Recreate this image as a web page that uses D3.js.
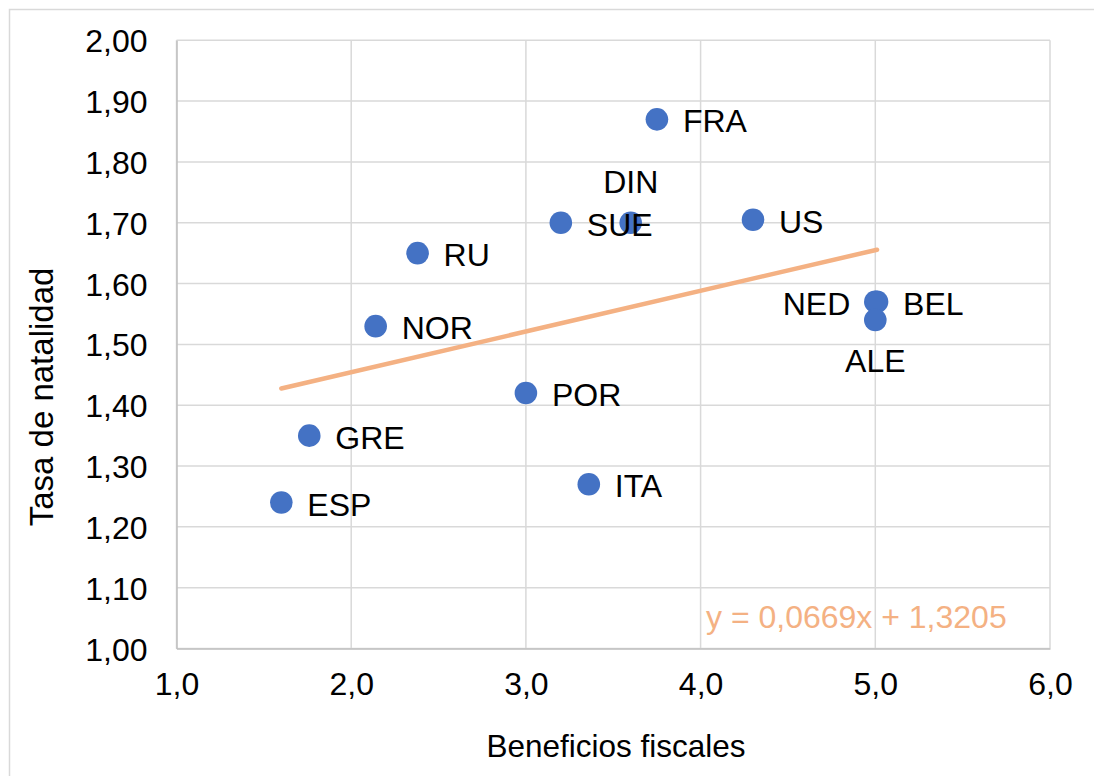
<!DOCTYPE html>
<html>
<head>
<meta charset="utf-8">
<script src="https://cdn.jsdelivr.net/npm/d3@7"></script>
<style>
  html, body { margin: 0; padding: 0; background: #fff; }
  text { font-family: "Liberation Sans", Arial, sans-serif; }
</style>
</head>
<body>
<svg id="chart" width="1094" height="776"></svg>
<script>
// ---- data ----
const countries = ["FRA", "DIN", "SUE", "US", "RU", "NOR", "NED", "BEL", "ALE", "POR", "GRE", "ESP", "ITA"];
const benefits  = [3.75, 3.60, 3.20, 4.30, 2.38, 2.14, 5.00, 5.01, 5.00, 3.00, 1.76, 1.60, 3.36];
const birthRate = [1.87, 1.70, 1.70, 1.705, 1.65, 1.53, 1.57, 1.57, 1.54, 1.42, 1.35, 1.24, 1.27];
const xTicks = [1, 2, 3, 4, 5, 6];
const yTicks = [1.0, 1.1, 1.2, 1.3, 1.4, 1.5, 1.6, 1.7, 1.8, 1.9, 2.0];
const trendSlope = 0.0669;
const trendIntercept = 1.3205;
const xTitle = "Beneficios fiscales";
const yTitle = "Tasa de natalidad";

// ---- layout / style ----
const labelSide = { DIN: "above", NED: "left", ALE: "below" };
const W = 1094, H = 776;
const plot = { left: 176.5, right: 1050, top: 40.3, bottom: 648.5 };
const dotColor = "#4472C4";
const trendColor = "#F4B183";
const gridColor = "#D9D9D9";

const loc = d3.formatLocale({ decimal: ",", thousands: ".", grouping: [3], currency: ["", "€"] });
const fx = loc.format(".1f");
const fy = loc.format(".2f");

const svg = d3.select("#chart");
svg.append("rect").attr("x", 0).attr("y", 0).attr("width", W).attr("height", H).attr("fill", "#fff");
// outer chart frame
svg.append("rect").attr("x", 9.5).attr("y", 9.5).attr("width", W + 20).attr("height", H + 20)
  .attr("fill", "none").attr("stroke", gridColor).attr("stroke-width", 1.5);

const x = d3.scaleLinear().domain([1, 6]).range([plot.left, plot.right]);
const y = d3.scaleLinear().domain([1, 2]).range([plot.bottom, plot.top]);

// gridlines
const grid = svg.append("g");
grid.selectAll("line.h").data(yTicks).join("line")
  .attr("x1", plot.left).attr("x2", plot.right)
  .attr("y1", d => y(d)).attr("y2", d => y(d))
  .attr("stroke", gridColor).attr("stroke-width", 1.5);
grid.selectAll("line.v").data(xTicks).join("line")
  .attr("y1", plot.top).attr("y2", plot.bottom)
  .attr("x1", d => x(d)).attr("x2", d => x(d))
  .attr("stroke", gridColor).attr("stroke-width", 1.5);

// axes
const yAxis = d3.axisLeft(y).tickValues(yTicks).tickFormat(fy).tickSize(0).tickPadding(29);
const gy = svg.append("g").attr("transform", `translate(${plot.left},0)`).call(yAxis);
gy.select(".domain").attr("stroke", "#BFBFBF").attr("stroke-width", 1.5);
gy.selectAll("text").attr("font-size", 32).attr("fill", "#000").attr("dy", "0.36em");

const xAxis = d3.axisBottom(x).tickValues(xTicks).tickFormat(fx).tickSize(0).tickPadding(24);
const gx = svg.append("g").attr("transform", `translate(0,${plot.bottom})`).call(xAxis);
gx.select(".domain").attr("stroke", "#BFBFBF").attr("stroke-width", 1.5);
gx.selectAll("text").attr("font-size", 32).attr("fill", "#000");

// titles
svg.append("text").attr("x", 616).attr("y", 757).attr("text-anchor", "middle")
  .attr("font-size", 31.5).attr("fill", "#000").text(xTitle);
svg.append("text").attr("transform", "translate(53,397) rotate(-90)").attr("text-anchor", "middle")
  .attr("font-size", 33).attr("fill", "#000").text(yTitle);

// data
const data = countries.map((c, i) => ({ c, x: benefits[i], y: birthRate[i] }));

// trend line
const xMin = d3.min(benefits), xMax = d3.max(benefits);
svg.append("line")
  .attr("x1", x(xMin)).attr("y1", y(trendSlope * xMin + trendIntercept))
  .attr("x2", x(xMax)).attr("y2", y(trendSlope * xMax + trendIntercept))
  .attr("stroke", trendColor).attr("stroke-width", 4.5).attr("stroke-linecap", "round");

// points
svg.append("g").selectAll("circle").data(data).join("circle")
  .attr("cx", d => x(d.x)).attr("cy", d => y(d.y)).attr("r", 11.3)
  .attr("fill", dotColor);

// labels
svg.append("g").selectAll("text").data(data).join("text")
  .attr("font-size", 32).attr("fill", "#000")
  .attr("text-anchor", d => labelSide[d.c] === "left" ? "end" : (labelSide[d.c] === "above" || labelSide[d.c] === "below") ? "middle" : "start")
  .attr("x", d => {
    const s = labelSide[d.c];
    if (s === "left") return x(d.x) - 25;
    if (s === "above" || s === "below") return x(d.x);
    return x(d.x) + 26;
  })
  .attr("y", d => {
    const s = labelSide[d.c];
    if (s === "above") return y(d.y) - 30;
    if (s === "below") return y(d.y) + 52;
    return y(d.y) + 13;
  })
  .text(d => d.c);

// equation
svg.append("text").attr("x", 706).attr("y", 628).attr("font-size", 32).attr("fill", trendColor)
  .text(`y = ${loc.format(".4f")(trendSlope)}x + ${loc.format(".4f")(trendIntercept)}`);
</script>
</body>
</html>
